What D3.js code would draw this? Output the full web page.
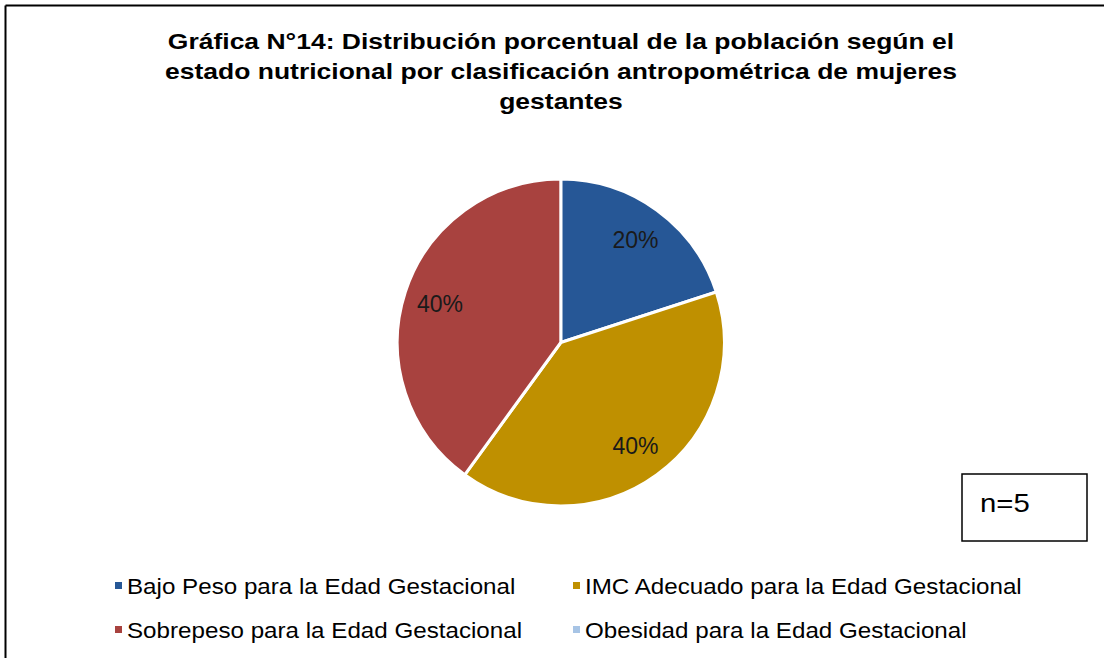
<!DOCTYPE html>
<html><head><meta charset="utf-8">
<script src="https://cdn.jsdelivr.net/npm/d3@7"></script>
<style>body{margin:0;background:#fff}svg{display:block}</style>
</head><body>
<svg id="chart" width="1104" height="658"></svg>
<script>
const titleLines = ["Gráfica N°14: Distribución porcentual de la población según el","estado nutricional por clasificación antropométrica de mujeres","gestantes"];
const categories = ["Bajo Peso para la Edad Gestacional","IMC Adecuado para la Edad Gestacional","Sobrepeso para la Edad Gestacional","Obesidad para la Edad Gestacional"];
const values = [20, 40, 40, 0];
const colors = ["#265796","#BF9000","#A8423F","#A7C4E5"];
const noteText = "n=5";

const svg = d3.select("#chart");
const font = "'Liberation Sans', Arial, sans-serif";

// frame (top and left edges visible)
svg.append("line").attr("x1",5.5).attr("y1",5.5).attr("x2",1104).attr("y2",5.5).attr("stroke","#000").attr("stroke-width",2);
svg.append("line").attr("x1",5.5).attr("y1",5.5).attr("x2",5.5).attr("y2",658).attr("stroke","#000").attr("stroke-width",2);

// title
svg.append("g").selectAll("text").data(titleLines).join("text")
  .attr("transform",(d,i)=>`translate(561,${49+i*30}) scale(1.205,1)`)
  .attr("text-anchor","middle").attr("font-family",font).attr("font-weight","bold")
  .attr("font-size",22).attr("fill","#000").text(d=>d);

// pie
const cx = 560.8, cy = 342.5, R = 163.5;
const color = d3.scaleOrdinal().domain(categories).range(colors);
const pie = d3.pie().sort(null).value(d=>d.v);
const data = categories.map((c,i)=>({c, v: values[i]}));
const arcs = pie(data);
const arc = d3.arc().innerRadius(0).outerRadius(R);
const labelArc = d3.arc().innerRadius(127).outerRadius(127);
const g = svg.append("g").attr("transform",`translate(${cx},${cy})`);
g.selectAll("path").data(arcs.filter(d=>d.data.v>0)).join("path")
  .attr("d",arc).attr("fill",d=>color(d.data.c))
  .attr("stroke","#fff").attr("stroke-width",3).attr("stroke-linejoin","round");
g.selectAll("text").data(arcs.filter(d=>d.data.v>0)).join("text")
  .attr("transform",d=>`translate(${labelArc.centroid(d)})`)
  .attr("text-anchor","middle").attr("dy","0.36em")
  .attr("font-family",font).attr("font-size",23).attr("fill","#1a1a1a")
  .text(d=>d3.format(".0%")(d.data.v/100));

// n=5 box
svg.append("rect").attr("x",962).attr("y",474).attr("width",125).attr("height",67)
  .attr("fill","#fff").attr("stroke","#000").attr("stroke-width",1.5);
svg.append("text").attr("transform","translate(980,512) scale(1.15,1)").attr("font-family",font).attr("font-size",25.5)
  .attr("fill","#000").text(noteText);

// legend
const legX = [115, 573], legY = [586, 630];
const leg = svg.append("g").selectAll("g").data(categories).join("g")
  .attr("transform",(d,i)=>`translate(${legX[i%2]},${legY[Math.floor(i/2)]})`);
leg.append("rect").attr("x",0).attr("y",-4).attr("width",7).attr("height",7).attr("fill",d=>color(d));
leg.append("text").attr("transform","translate(12,0) scale(1.075,1)").attr("dy","0.36em")
  .attr("font-family",font).attr("font-size",22.5).attr("fill","#000").text(d=>d);
</script>
</body></html>
